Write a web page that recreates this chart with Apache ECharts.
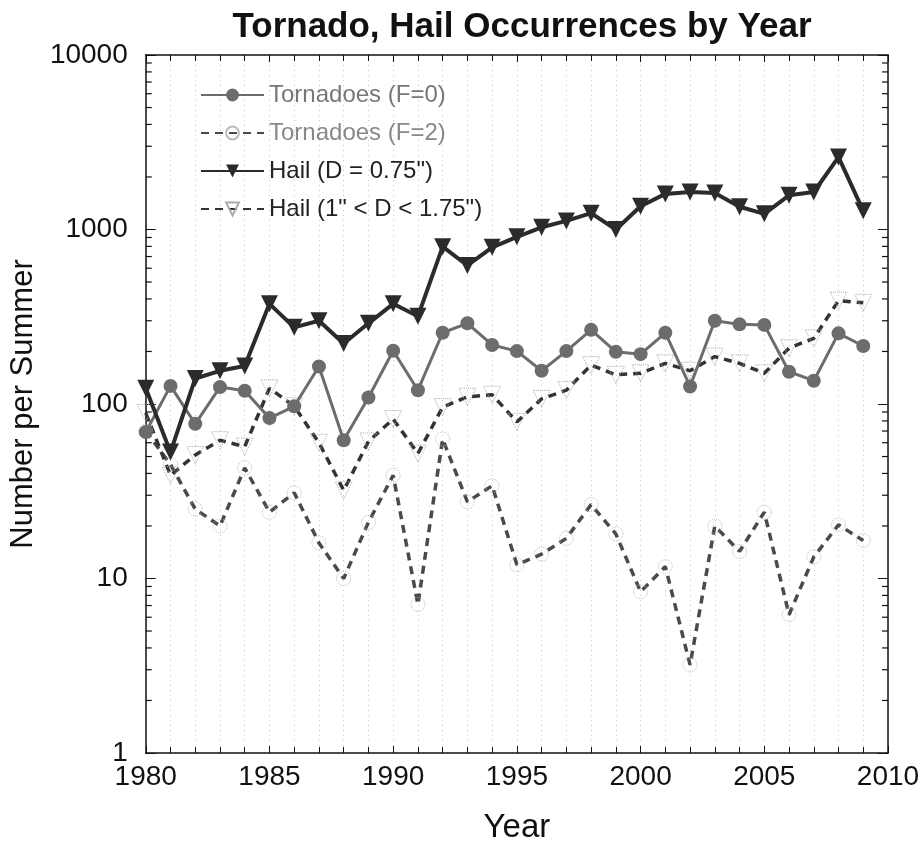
<!DOCTYPE html>
<html>
<head>
<meta charset="utf-8">
<script src="https://cdn.jsdelivr.net/npm/echarts@6/dist/echarts.min.js"></script>
<style>html,body{margin:0;padding:0;background:#fff}#c{width:924px;height:852px}</style>
</head>
<body>
<div id="c"></div>
<script>
const years = [1980,1981,1982,1983,1984,1985,1986,1987,1988,1989,1990,1991,1992,1993,1994,1995,1996,1997,1998,1999,2000,2001,2002,2003,2004,2005,2006,2007,2008,2009];
const tornadoF0 = [69,127,77,125,119,83,97,164,62,109,202,120,256,290,218,201,155,201,266,199,193,256,126,300,286,284,153,136,254,215];
const tornadoF2 = [70,45,25,20,43,24,31,16,10,21,39,7.1,63,27.5,34,12,13.8,17,26.5,18,8.4,11.7,3.2,20,14.3,24,6.2,13.3,20.3,16.5];
const hailSmall = [123,53,140,155,165,375,275,300,222,290,375,318,797,622,790,908,1030,1120,1240,1000,1360,1600,1640,1620,1350,1230,1570,1640,2600,1280];
const hailLarge = [89,39,51,62,57,123,97,60,32,61,82,52,96,110,113,79,107,120,167,147,150,171,155,187,171,150,209,238,391,380];
const seriesNames = ['Tornadoes (F=0)','Tornadoes (F=2)','Hail (D = 0.75")','Hail (1" < D < 1.75")'];
const minorTickValues = [];
[1,10,100,1000].forEach(d => { for (let k = 2; k <= 9; k++) minorTickValues.push(d * k); });

const pair = arr => years.map((y, i) => [y, arr[i]]);
const FONT = '"Liberation Sans", Arial, Helvetica, sans-serif';

const chart = echarts.init(document.getElementById('c'), null, {renderer: 'canvas'});
chart.setOption({
  animation: false,
  backgroundColor: '#fff',
  title: {
    text: 'Tornado, Hail Occurrences by Year',
    left: 517, top: 5, textAlign: 'center',
    textStyle: {fontFamily: FONT, fontSize: 35, fontWeight: 'bold', color: '#111'}
  },
  grid: {left: 145, right: 36, top: 55, bottom: 99, containLabel: false},
  legend: {
    orient: 'vertical', left: 195, top: 78, itemGap: 14,
    itemWidth: 63, itemHeight: 16,
    textStyle: {fontFamily: FONT, fontSize: 24},
    data: [
      {name: seriesNames[0], textStyle: {color: '#777'}},
      {name: seriesNames[1], textStyle: {color: '#888'}},
      {name: seriesNames[2], textStyle: {color: '#222'}},
      {name: seriesNames[3], textStyle: {color: '#222'}}
    ]
  },
  xAxis: [{
    type: 'value', min: 1980, max: 2010, interval: 5,
    name: 'Year', nameLocation: 'middle', nameGap: 58,
    nameTextStyle: {fontFamily: FONT, fontSize: 33, color: '#111'},
    axisLine: {show: true, lineStyle: {color: '#111', width: 1.5}},
    axisTick: {show: true, inside: true, length: 7, lineStyle: {color: '#111'}},
    minorTick: {show: true, splitNumber: 5, length: 6, lineStyle: {color: '#111'}},
    axisLabel: {fontFamily: FONT, fontSize: 28, color: '#111', margin: 10, formatter: v => String(v)},
    splitLine: {show: true, lineStyle: {color: '#c8c8c8', type: [1, 4], width: 1}},
    minorSplitLine: {show: true, lineStyle: {color: '#c8c8c8', type: [1, 4], width: 1}}
  }, {
    type: 'value', min: 1980, max: 2010, interval: 5, position: 'top',
    axisLine: {show: true, lineStyle: {color: '#111', width: 1.5}},
    axisTick: {show: true, inside: true, length: 7, lineStyle: {color: '#111'}},
    minorTick: {show: true, splitNumber: 5, length: 6, lineStyle: {color: '#111'}},
    axisLabel: {show: false}, splitLine: {show: false}
  }],
  yAxis: [{
    type: 'log', logBase: 10, min: 1, max: 10000,
    name: 'Number per Summer', nameLocation: 'middle', nameGap: 97, nameRotate: 90,
    nameTextStyle: {fontFamily: FONT, fontSize: 31, color: '#111'},
    axisLine: {show: true, lineStyle: {color: '#111', width: 1.5}},
    axisTick: {show: true, inside: true, length: 10, lineStyle: {color: '#111'}},
    axisLabel: {fontFamily: FONT, fontSize: 28, color: '#111', margin: 18, formatter: v => String(v)},
    splitLine: {show: false}
  }, {
    type: 'log', logBase: 10, min: 1, max: 10000, position: 'right',
    axisLine: {show: true, lineStyle: {color: '#111', width: 1.5}},
    axisTick: {show: true, inside: true, length: 10, lineStyle: {color: '#111'}},
    axisLabel: {show: false}, splitLine: {show: false}
  }],
  series: [
    {
      name: seriesNames[0], type: 'line', data: pair(tornadoF0),
      symbol: 'circle', symbolSize: 14,
      lineStyle: {color: '#6c6c6c', width: 3},
      itemStyle: {color: '#6c6c6c'}, z: 4
    },
    {
      name: seriesNames[1], type: 'line', data: pair(tornadoF2),
      symbol: 'circle', symbolSize: 14,
      lineStyle: {color: '#4a4a4a', width: 3.5, type: [8, 6]},
      itemStyle: {color: 'rgba(255,255,255,0)', borderColor: '#bbb', borderWidth: 1, borderType: 'dotted'}, z: 3
    },
    {
      name: seriesNames[2], type: 'line', data: pair(hailSmall),
      symbol: 'triangle', symbolRotate: 180, symbolSize: 17,
      lineStyle: {color: '#2b2b2b', width: 4},
      itemStyle: {color: '#2b2b2b'}, z: 5
    },
    {
      name: seriesNames[3], type: 'line', data: pair(hailLarge),
      symbol: 'triangle', symbolRotate: 180, symbolSize: 17,
      lineStyle: {color: '#333', width: 3.5, type: [8, 6]},
      itemStyle: {color: 'rgba(255,255,255,0)', borderColor: '#aaa', borderWidth: 1, borderType: 'dotted'}, z: 3
    },
    {
      name: 'minorTicks', type: 'custom', silent: true, clip: false,
      data: minorTickValues.map(v => [1980, v]),
      renderItem: function (params, api) {
        const v = api.value(1);
        const l = api.coord([1980, v]);
        const r = api.coord([2010, v]);
        return {
          type: 'group',
          children: [
            {type: 'line', shape: {x1: l[0], y1: l[1], x2: l[0] + 6, y2: l[1]}, style: {stroke: '#111', lineWidth: 1.2}},
            {type: 'line', shape: {x1: r[0], y1: r[1], x2: r[0] - 6, y2: r[1]}, style: {stroke: '#111', lineWidth: 1.2}}
          ]
        };
      },
      z: 2
    }
  ]
});
</script>
</body>
</html>
